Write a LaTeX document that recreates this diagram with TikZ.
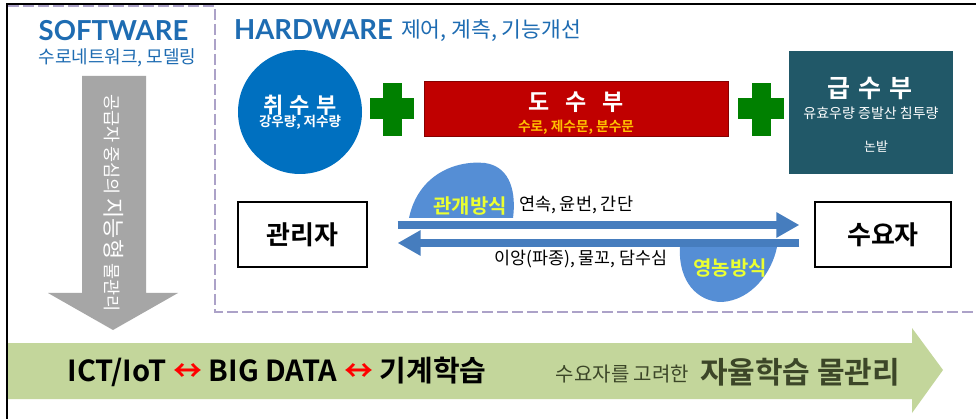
\documentclass[tikz,border=0pt]{standalone}
\usepackage{fontspec}
\setmainfont{Noto Sans CJK KR}[BoldFont={Noto Sans CJK KR Bold}]
\newfontfamily\lato{Lato}
\usetikzlibrary{arrows.meta}
\definecolor{titleblue}{RGB}{30,108,178}
\definecolor{circblue}{RGB}{0,112,192}
\definecolor{plusgreen}{RGB}{0,128,0}
\definecolor{boxred}{RGB}{192,0,0}
\definecolor{subyellow}{RGB}{255,192,0}
\definecolor{boxteal}{RGB}{33,88,104}
\definecolor{arrblue}{RGB}{70,125,190}
\definecolor{blobblue}{RGB}{85,142,213}
\definecolor{blobtext}{RGB}{235,255,50}
\definecolor{dashlav}{RGB}{172,162,200}
\definecolor{greyarr}{RGB}{166,166,166}
\definecolor{barge}{RGB}{195,214,155}
\definecolor{olivetext}{RGB}{60,70,40}
\newcommand{\fsz}[1]{\fontsize{#1}{#1}\selectfont}
\begin{document}
\begin{tikzpicture}[x=1pt,y=-1pt,
  txt/.style={inner sep=0pt, outer sep=0pt},
  actorbox/.style={draw=black, line width=1.2pt, fill=white, minimum height=65pt, inner sep=0pt, font=\bfseries\fsz{26}},
  bluearrow/.style={draw=arrblue, line width=8pt, -{Triangle[length=23pt,width=24pt]}},
  plusbar/.style={fill=plusgreen, draw=plusgreen!70!white, line width=0.6pt}]
\useasboundingbox[fill=white] (0,0) rectangle (976,419);
% frame
\draw[dashlav, line width=2.5pt, dash pattern=on 11pt off 4pt] (8,6) -- (215,6) -- (215,312) -- (976,312);
\draw[black, line width=1.6pt] (7,419) -- (7,4) -- (976,4);
% software
\node[txt, text=titleblue, font=\lato\bfseries\fsz{27.5}] (sw) at (113.5,31) {SOFTWARE};
\node[txt, text=titleblue, font=\fsz{18}] (swsub) at (117.5,58) {수로네트워크, 모델링};
\fill[greyarr] (82,76) -- (146,76) -- (146,293) -- (178,293) -- (113,330) -- (48,293) -- (82,293) -- cycle;
\node[txt, rotate=-90, text=white, font=\fsz{17.5}] (vt) at (114,203) {공급자 중심의 {\fsz{22}지능형} 물관리};
% hardware
\node[txt, text=titleblue, font=\lato\bfseries\fsz{27.5}] (hw) at (313.5,30) {HARDWARE};
\node[txt, text=titleblue, font=\fsz{21.5}] (hwsub) at (491,31) {제어, 계측, 기능개선};
% intake circle
\node[circle, fill=circblue, minimum size=124pt, inner sep=0pt] (intake) at (300,112) {};
\node[txt, text=white, font=\bfseries\fsz{22}] (intaket) at (300,105) {취\hspace{6pt}수\hspace{6pt}부};
\node[txt, text=white, font=\bfseries\fsz{13.5}] (intakes) at (300,122) {강우량, 저수량};
% plus 1
\filldraw[plusgreen] (383,83) rectangle (401,135);
\filldraw[plusgreen] (370,98) rectangle (413,118);
% conveyance
\node[rectangle, fill=boxred, draw=boxred!70!black, line width=0.6pt, minimum width=304pt, minimum height=55pt, inner sep=0pt] (conv) at (576,108.5) {};
\node[txt, text=white, font=\bfseries\fsz{23}] (convt) at (576,102) {도\hspace{16pt}수\hspace{16pt}부};
\node[txt, text=subyellow, font=\bfseries\fsz{13.7}] (convs) at (576,127) {수로, 제수문, 분수문};
% plus 2
\filldraw[plusgreen] (752,83) rectangle (770,135);
\filldraw[plusgreen] (738,98) rectangle (783,118);
% supply
\node[rectangle, fill=boxteal, minimum width=164pt, minimum height=123pt, inner sep=0pt] (supply) at (871,112.5) {};
\node[txt, text=white, font=\bfseries\fsz{25}] (supplyt) at (870,88) {급\hspace{8pt}수\hspace{8pt}부};
\node[txt, text=white, font=\fsz{14}] (supplys) at (871,113) {유효우량 증발산 침투량};
\node[txt, text=white, font=\fsz{13}] (supplyf) at (876,147) {논밭};
% actors
\node[actorbox, minimum width=129pt] (gw) at (302.5,234.5) {관리자};
\node[actorbox, minimum width=136pt] (sy) at (883,234.5) {수요자};
% blobs
\fill[blobblue] (409,218) .. controls (418,175) and (455,160) .. (485,163) .. controls (512,167) and (516,195) .. (513,218) -- cycle;
\fill[blobblue] (680,247) .. controls (678,282) and (698,302) .. (722,302) .. controls (752,300) and (772,272) .. (777,247) -- cycle;
% arrows
\draw[bluearrow] ([xshift=30pt,yshift=9.5pt]gw.east) -- ([xshift=-15pt,yshift=9.5pt]sy.west);
\draw[bluearrow] ([xshift=-15pt,yshift=-8.5pt]sy.west) -- ([xshift=30pt,yshift=-8.5pt]gw.east);
\node[txt, text=blobtext, font=\bfseries\fsz{20}] (irr) at (470,206) {관개방식};
\node[txt, anchor=west, font=\fsz{17.5}] (irrs) at (519,205) {연속, 윤번, 간단};
\node[txt, text=blobtext, font=\bfseries\fsz{20}] (farm) at (730,268) {영농방식};
\node[txt, font=\fsz{17.4}] (farms) at (581,259) {이앙(파종), 물꼬, 담수심};
% bottom bar
\fill[barge] (8,343) -- (912,343) -- (912,328) -- (943,370) -- (912,413) -- (912,399) -- (8,399) -- cycle;
\node[txt, font=\bfseries\fsz{29}] (ict) at (277,372) {ICT/IoT {\color{red}↔} BIG DATA {\color{red}↔} 기계학습};
\node[txt, text=olivetext, font=\fsz{20}] (cons) at (622.5,374) {수요자를 고려한};
\node[txt, text=olivetext, font=\bfseries\fsz{30}] (auto) at (800,372) {자율학습 물관리};
\end{tikzpicture}
\end{document}
